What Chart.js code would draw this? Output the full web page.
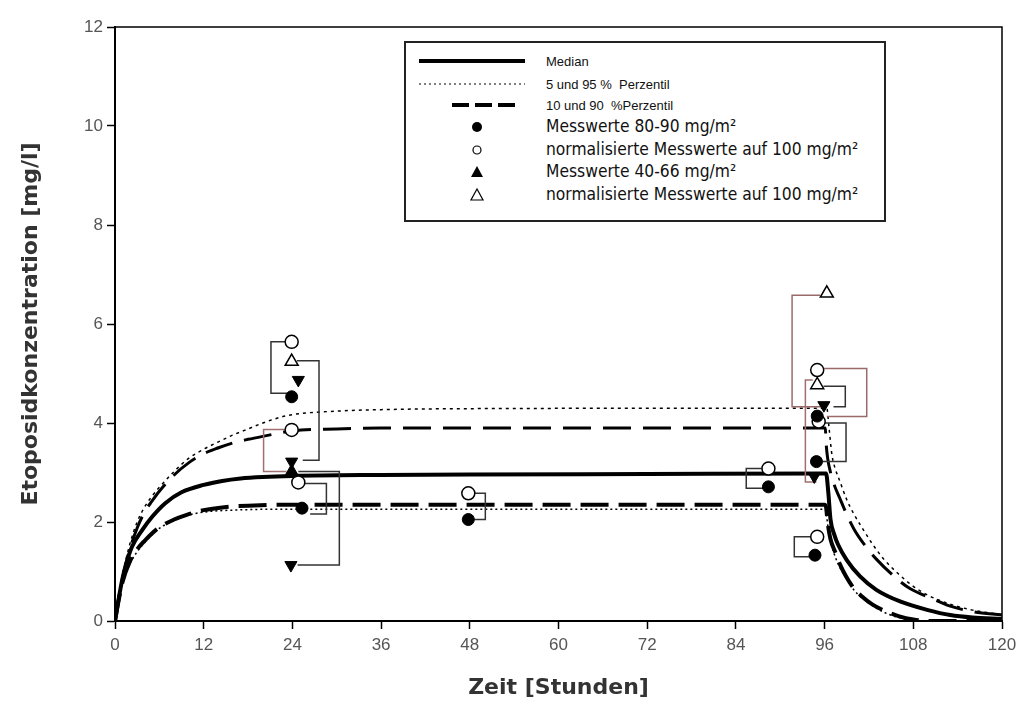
<!DOCTYPE html>
<html lang="de">
<head>
<meta charset="UTF-8">
<title>Etoposidkonzentration</title>
<script src="https://cdn.jsdelivr.net/npm/chart.js"></script>
<style>
  body { margin: 0; background: #fff; }
  .wrap { position: relative; width: 1023px; height: 707px; }
  .legende { position: absolute; left: 404px; top: 41px; width: 478px; height: 177px; border: 2px solid #222; background: #fff; font-family: "Liberation Sans", Arial, sans-serif; color: #111; }
  .legende svg { position: absolute; left: 0; top: 0; }
  .legende .txt { position: absolute; left: 140px; white-space: pre; line-height: 1; transform: translateY(-50%); }
  .klein { font-size: 13px; }
  .gross { font-family: "Liberation Sans Narrow", "DejaVu Sans Condensed", sans-serif; font-size: 17.3px; }
</style>
</head>
<body>
<div class="wrap">
  <canvas id="etoposid"></canvas>
  <div class="legende">
    <svg width="478" height="177">
      <line x1="13" y1="18" x2="119" y2="18" stroke="#000" stroke-width="4" />
      <line x1="13" y1="41" x2="119" y2="41" stroke="#000" stroke-width="1" stroke-dasharray="2,3" />
      <line x1="46" y1="62" x2="114" y2="62" stroke="#000" stroke-width="4" stroke-dasharray="17,6" />
      <circle cx="71" cy="84" r="5" fill="#000" />
      <circle cx="71" cy="107" r="4" fill="#fff" stroke="#000" stroke-width="1.2" />
      <polygon points="71,123 77,134 65,134" fill="#000" />
      <polygon points="71,146 77,157 65,157" fill="#fff" stroke="#000" stroke-width="1.2" />
    </svg>
    <div class="txt klein" style="top:18px">Median</div>
    <div class="txt klein" style="top:41px">5 und 95 %  Perzentil</div>
    <div class="txt klein" style="top:62px">10 und 90  %Perzentil</div>
    <div class="txt gross" style="top:84px">Messwerte 80-90 mg/m²</div>
    <div class="txt gross" style="top:107px">normalisierte Messwerte auf 100 mg/m²</div>
    <div class="txt gross" style="top:129px">Messwerte 40-66 mg/m²</div>
    <div class="txt gross" style="top:152px">normalisierte Messwerte auf 100 mg/m²</div>
  </div>
</div>
<script>
  // Kurven (Zeit in Stunden, Konzentration in mg/l)
  const tMedian = [0, 0.5, 1, 1.5, 2.3, 3.7, 5, 6.8, 9, 12, 14.5, 17, 20, 24, 36, 48, 72, 96, 96.2, 96.5, 96.8, 97.3, 97.8, 99, 100.8, 103, 106.3, 110, 113, 116, 120];
  const yMedian = [0, 0.45, 0.85, 1.15, 1.5, 1.84, 2.1, 2.38, 2.6, 2.75, 2.83, 2.88, 2.91, 2.93, 2.95, 2.96, 2.97, 2.98, 2.98, 2.6, 2.05, 1.75, 1.55, 1.23, 0.9, 0.63, 0.39, 0.22, 0.12, 0.07, 0.04];

  const tP95 = [0, 0.5, 1, 2, 3, 4, 5, 6, 8, 10, 12, 14, 16, 18, 20, 22, 24, 30, 36, 48, 96, 96.3, 96.6, 97, 97.5, 98, 99, 100, 101, 102.5, 104, 106, 108, 110, 113, 116, 120];
  const yP95 = [0, 0.5, 0.92, 1.55, 2.0, 2.3, 2.52, 2.7, 3.02, 3.29, 3.47, 3.62, 3.76, 3.88, 4.0, 4.1, 4.17, 4.24, 4.27, 4.29, 4.3, 4.3, 3.9, 3.35, 3.05, 2.85, 2.45, 2.15, 1.9, 1.55, 1.25, 0.95, 0.7, 0.52, 0.34, 0.22, 0.13];

  const tP90 = [0, 0.5, 1, 2, 3, 4, 5, 6, 8, 10, 12, 14, 16, 18, 20, 24, 30, 36, 96, 96.1, 96.2, 96.4, 96.8, 97.3, 98, 99, 100, 101.6, 103, 105.8, 107.6, 110.6, 113, 116, 120];
  const yP90 = [0, 0.46, 0.85, 1.45, 1.88, 2.2, 2.42, 2.62, 2.95, 3.2, 3.38, 3.5, 3.6, 3.67, 3.73, 3.84, 3.88, 3.9, 3.9, 3.9, 3.6, 3.3, 3.0, 2.75, 2.5, 2.15, 1.85, 1.5, 1.25, 0.85, 0.65, 0.45, 0.3, 0.19, 0.12];

  const tP10 = [0, 0.5, 1, 2, 3, 4, 5.8, 8, 9.6, 12, 14.8, 18, 24, 96, 96.2, 96.4, 96.8, 97.5, 98, 99.8, 101.1, 102.5, 104.2, 106, 108, 110, 120];
  const yP10 = [0, 0.42, 0.78, 1.2, 1.45, 1.62, 1.87, 2.05, 2.14, 2.24, 2.3, 2.33, 2.35, 2.35, 2.3, 2.0, 1.65, 1.37, 1.17, 0.69, 0.49, 0.33, 0.2, 0.1, 0.03, 0, 0];

  const tP5 = [0, 0.5, 1, 2, 3, 4, 5.8, 8, 10, 12, 16, 24, 96, 96.2, 96.5, 97, 98, 99, 100, 102, 104, 106, 108, 110, 120];
  const yP5 = [0, 0.4, 0.74, 1.15, 1.4, 1.58, 1.85, 2.03, 2.14, 2.2, 2.24, 2.26, 2.26, 2.2, 1.85, 1.5, 1.1, 0.85, 0.62, 0.36, 0.18, 0.07, 0.02, 0, 0];

  // Messwerte
  const tMess8090 = [23.9, 25.3, 47.8, 88.4, 95.0, 94.9, 94.7];
  const yMess8090 = [4.53, 2.28, 2.05, 2.71, 4.14, 3.22, 1.33];
  const tNormKreis = [23.9, 23.9, 24.8, 47.8, 88.4, 95.0, 95.2, 95.0];
  const yNormKreis = [5.64, 3.86, 2.80, 2.58, 3.08, 5.07, 4.03, 1.70];
  const tMess4066 = [24.8, 23.9, 23.9, 23.8, 95.9, 94.6];
  const yMess4066 = [4.87, 3.22, 3.03, 1.13, 4.36, 2.92];
  const tNormDreieck = [23.9, 96.3, 95.0];
  const yNormDreieck = [5.24, 6.62, 4.77];

  // Verbindungslinien zwischen Messwert und normalisiertem Wert
  const klammerT = [
    [23.3, 21.1, 21.1, 23.3],
    [24.6, 27.6, 27.6, 25.4],
    [23.2, 20.1, 20.1, 23.2],
    [25.7, 28.6, 28.6, 26.4],
    [24.7, 30.35, 30.35, 24.8],
    [48.5, 50.1, 50.1, 48.5],
    [87.7, 85.4, 85.4, 87.7],
    [95.4, 91.6, 91.6, 95.4],
    [95.8, 101.7, 101.7, 96.3],
    [95.85, 98.8, 98.8, 97.2],
    [95.8, 98.9, 98.9, 95.6],
    [94.4, 93.4, 93.4, 94.9],
    [94.3, 91.9, 91.9, 94.05]
  ];
  const klammerY = [
    [5.64, 5.64, 4.6, 4.6],
    [5.26, 5.26, 3.25, 3.25],
    [3.87, 3.87, 3.02, 3.02],
    [2.78, 2.78, 2.16, 2.16],
    [1.13, 1.13, 3.02, 3.02],
    [2.58, 2.58, 2.05, 2.05],
    [3.08, 3.08, 2.68, 2.68],
    [6.58, 6.58, 4.33, 4.33],
    [5.1, 5.1, 4.13, 4.13],
    [4.74, 4.74, 4.33, 4.33],
    [4.0, 4.0, 3.22, 3.22],
    [4.87, 4.87, 2.81, 2.81],
    [1.70, 1.70, 1.30, 1.30]
  ];
  const klammerFarbe = ['#333', '#333', '#a07070', '#333', '#333', '#333', '#333', '#9a6a6a', '#9a6a6a', '#333', '#333', '#a07070', '#333'];

  const punkte = (ts, ys) => ts.map((t, i) => ({ x: t, y: ys[i] }));

  function kurve(ts, ys, breite, strich) {
    return {
      data: punkte(ts, ys), showLine: true, pointRadius: 0, borderColor: '#000',
      borderWidth: breite, borderDash: strich, cubicInterpolationMode: 'monotone', order: 3
    };
  }

  const datasets = [
    { data: punkte(tMess8090, yMess8090), pointStyle: 'circle', pointRadius: 6, backgroundColor: '#000', borderColor: '#000', borderWidth: 1, order: 0 },
    { data: punkte(tNormKreis, yNormKreis), pointStyle: 'circle', pointRadius: 6.5, backgroundColor: '#fff', borderColor: '#000', borderWidth: 1.5, order: 0 },
    { data: punkte(tMess4066, yMess4066), pointStyle: 'triangle', pointRadius: 7, pointRotation: [180, 180, 0, 180, 180, 180], backgroundColor: '#000', borderColor: '#000', borderWidth: 1, order: 0 },
    { data: punkte(tNormDreieck, yNormDreieck), pointStyle: 'triangle', pointRadius: 7.5, backgroundColor: '#fff', borderColor: '#000', borderWidth: 1.5, order: 0 },
    kurve(tMedian, yMedian, 4, []),
    kurve(tP95, yP95, 1.5, [3, 4]),
    kurve(tP5, yP5, 1.5, [2, 3]),
    kurve(tP90, yP90, 3, [28, 12]),
    kurve(tP10, yP10, 4, [28, 10])
  ];
  klammerT.forEach((ts, i) => {
    datasets.push({ data: punkte(ts, klammerY[i]), showLine: true, pointRadius: 0, borderColor: klammerFarbe[i], borderWidth: 1.5, tension: 0, order: 2 });
  });

  const rahmen = {
    id: 'rahmen',
    afterDraw(chart) {
      const { ctx, chartArea: a } = chart;
      ctx.save();
      ctx.strokeStyle = '#000';
      ctx.lineWidth = 1.5;
      ctx.beginPath();
      ctx.moveTo(a.left, a.top);
      ctx.lineTo(a.right, a.top);
      ctx.lineTo(a.right, a.bottom);
      ctx.stroke();
      ctx.restore();
    }
  };

  const tickFont = { family: 'Liberation Sans, Arial, sans-serif', size: 17 };
  const titelFont = { family: 'DejaVu Sans, sans-serif', size: 22, weight: 'bold' };

  new Chart(document.getElementById('etoposid'), {
    type: 'scatter',
    data: { datasets },
    plugins: [rahmen],
    options: {
      responsive: true,
      maintainAspectRatio: false,
      animation: false,
      layout: { padding: { top: 27, right: 21, left: 0, bottom: 0 } },
      plugins: { legend: { display: false }, tooltip: { enabled: false } },
      scales: {
        x: {
          type: 'linear', min: 0, max: 120,
          ticks: { stepSize: 12, color: '#555', font: tickFont, padding: 6 },
          grid: { drawOnChartArea: false, tickLength: 8, color: '#000', tickWidth: 1.5 },
          border: { color: '#000', width: 2 },
          title: { display: true, text: 'Zeit [Stunden]', color: '#333', font: titelFont, padding: { top: 0, bottom: 6 } },
          afterFit(s) { s.height = 86; }
        },
        y: {
          min: 0, max: 12,
          ticks: { stepSize: 2, color: '#555', font: tickFont, padding: 4 },
          grid: { drawOnChartArea: false, tickLength: 8, color: '#000', tickWidth: 1.5 },
          border: { color: '#000', width: 2 },
          title: { display: true, text: 'Etoposidkonzentration [mg/l]', color: '#333', font: titelFont, padding: { top: 18, bottom: 0 } },
          afterFit(s) { s.width = 115; }
        }
      }
    }
  });
</script>
</body>
</html>
